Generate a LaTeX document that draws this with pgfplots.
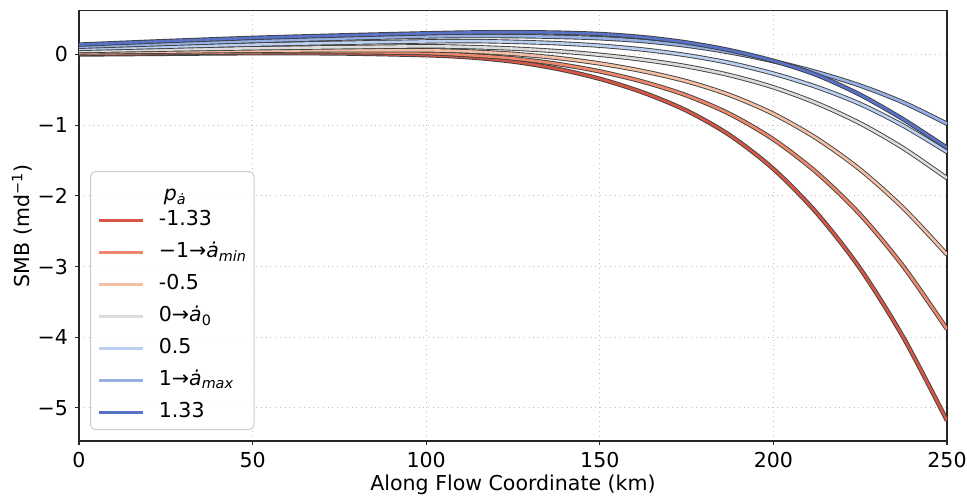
\documentclass[border=0pt]{standalone}
\usepackage{fontspec}
\setmainfont{DejaVu Sans}
\usepackage{pgfplots}
\usepackage{pgfplotstable}
\pgfplotsset{compat=1.18}

\definecolor{c1}{RGB}{214,86,70}
\definecolor{c2}{RGB}{238,136,108}
\definecolor{c3}{RGB}{244,192,165}
\definecolor{c4}{RGB}{220,220,221}
\definecolor{c5}{RGB}{188,208,242}
\definecolor{c6}{RGB}{150,176,228}
\definecolor{c7}{RGB}{88,114,200}
\newcommand\fs{\fontsize{10.3}{12.4}\selectfont}

% SMB along flow, one column per p value
\pgfplotstableread{
x      r      s      l      g      b1     b2     b3
0      0.000  0.010  0.030  0.050  0.080  0.110  0.140
25     0.010  0.022  0.042  0.070  0.110  0.150  0.190
50     0.018  0.032  0.053  0.088  0.140  0.190  0.235
75     0.015  0.035  0.060  0.103  0.165  0.225  0.270
100   -0.010  0.020  0.059  0.116  0.185  0.255  0.300
112.5 -0.040 -0.010  0.043  0.106  0.190  0.262  0.312
125   -0.100 -0.055  0.009  0.084  0.180  0.260  0.315
137.5 -0.200 -0.131 -0.047  0.048  0.160  0.250  0.310
150   -0.344 -0.239 -0.127 -0.004  0.125  0.230  0.290
162.5 -0.538 -0.386 -0.236 -0.074  0.070  0.190  0.245
175   -0.794 -0.579 -0.379 -0.167 -0.010  0.125  0.170
187.5 -1.144 -0.843 -0.575 -0.293 -0.120  0.030  0.060
200   -1.619 -1.201 -0.840 -0.464 -0.270 -0.095 -0.090
212.5 -2.244 -1.672 -1.189 -0.690 -0.460 -0.250 -0.290
225   -3.030 -2.265 -1.629 -0.974 -0.700 -0.440 -0.570
237.5 -4.010 -3.004 -2.177 -1.328 -1.010 -0.680 -0.920
250   -5.180 -3.886 -2.831 -1.750 -1.380 -0.980 -1.320
}\smb

\begin{document}
\begin{tikzpicture}
\begin{axis}[
    name=ax,
    scale only axis,
    width=434bp, height=215.2bp,
    xmin=0, xmax=250, ymin=-5.47, ymax=0.62,
    xtick={0,50,...,250}, xticklabels={0,50,100,150,200,250},
    ytick={-5,...,0}, yticklabels={−5,−4,−3,−2,−1,0},
    xtick pos=lower, ytick pos=left,
    tick align=outside, major tick length=2bp,
    tick style={color=black!85, line width=0.6bp},
    axis line style={color=black!85, line width=0.65bp},
    grid=major, grid style={dotted, color=black!25, line width=0.5bp},
    tick label style={font=\fs},
    label style={font=\fs},
    xlabel={Along Flow Coordinate (km)},
    ylabel={SMB (md\textsuperscript{−1})},
    xlabel style={at={([yshift=-21.75bp]axis description cs:0.5,0)}, anchor=center},
    ylabel style={at={([xshift=-28.5bp]axis description cs:0,0.5)}, anchor=center},
    legend style={at={(0.0127,0.0256)}, anchor=south west,
        draw=black!20, line width=0.5bp, rounded corners=2.5bp,
        fill=white, fill opacity=0.8, text opacity=1, font=\fs,
        inner xsep=3.5bp, inner ysep=3.5bp, row sep=6bp, column sep=7.5bp,
        nodes={inner sep=0pt, text height=7.5bp, text depth=2.5bp}},
    legend cell align=left,
    legend image code/.code={\draw[#1, line width=1.2bp] (0bp,0bp) -- (22bp,0bp);},
    cl/.style={forget plot, smooth, line width=1.3bp,
        preaction={draw=black!75, line width=2.2bp}},
]
\addplot[cl, c1] table[x=x, y=r] {\smb};
\addplot[cl, c2] table[x=x, y=s] {\smb};
\addplot[cl, c3] table[x=x, y=l] {\smb};
\addplot[cl, c4] table[x=x, y=g] {\smb};
\addplot[cl, c5] table[x=x, y=b1] {\smb};
\addplot[cl, c6] table[x=x, y=b2] {\smb};
\addplot[cl, c7] table[x=x, y=b3] {\smb};

\addlegendimage{empty legend}
\addlegendentry{\raisebox{-3.6bp}{\hspace{2.5bp}\textit{p}\textsubscript{\textit{ȧ}}}}
\addlegendimage{c1}\addlegendentry{-1.33}
\addlegendimage{c2}\addlegendentry{−1→\textit{ȧ}\textsubscript{\textit{min}}}
\addlegendimage{c3}\addlegendentry{-0.5}
\addlegendimage{c4}\addlegendentry{0→\textit{ȧ}\textsubscript{0}}
\addlegendimage{c5}\addlegendentry{0.5}
\addlegendimage{c6}\addlegendentry{1→\textit{ȧ}\textsubscript{\textit{max}}}
\addlegendimage{c7}\addlegendentry{1.33}
\end{axis}
\pgfresetboundingbox
\path[use as bounding box] ([xshift=-39.5bp,yshift=-27bp]ax.south west)
    rectangle ([xshift=10bp,yshift=5.35bp]ax.north east);
\end{tikzpicture}
\end{document}
